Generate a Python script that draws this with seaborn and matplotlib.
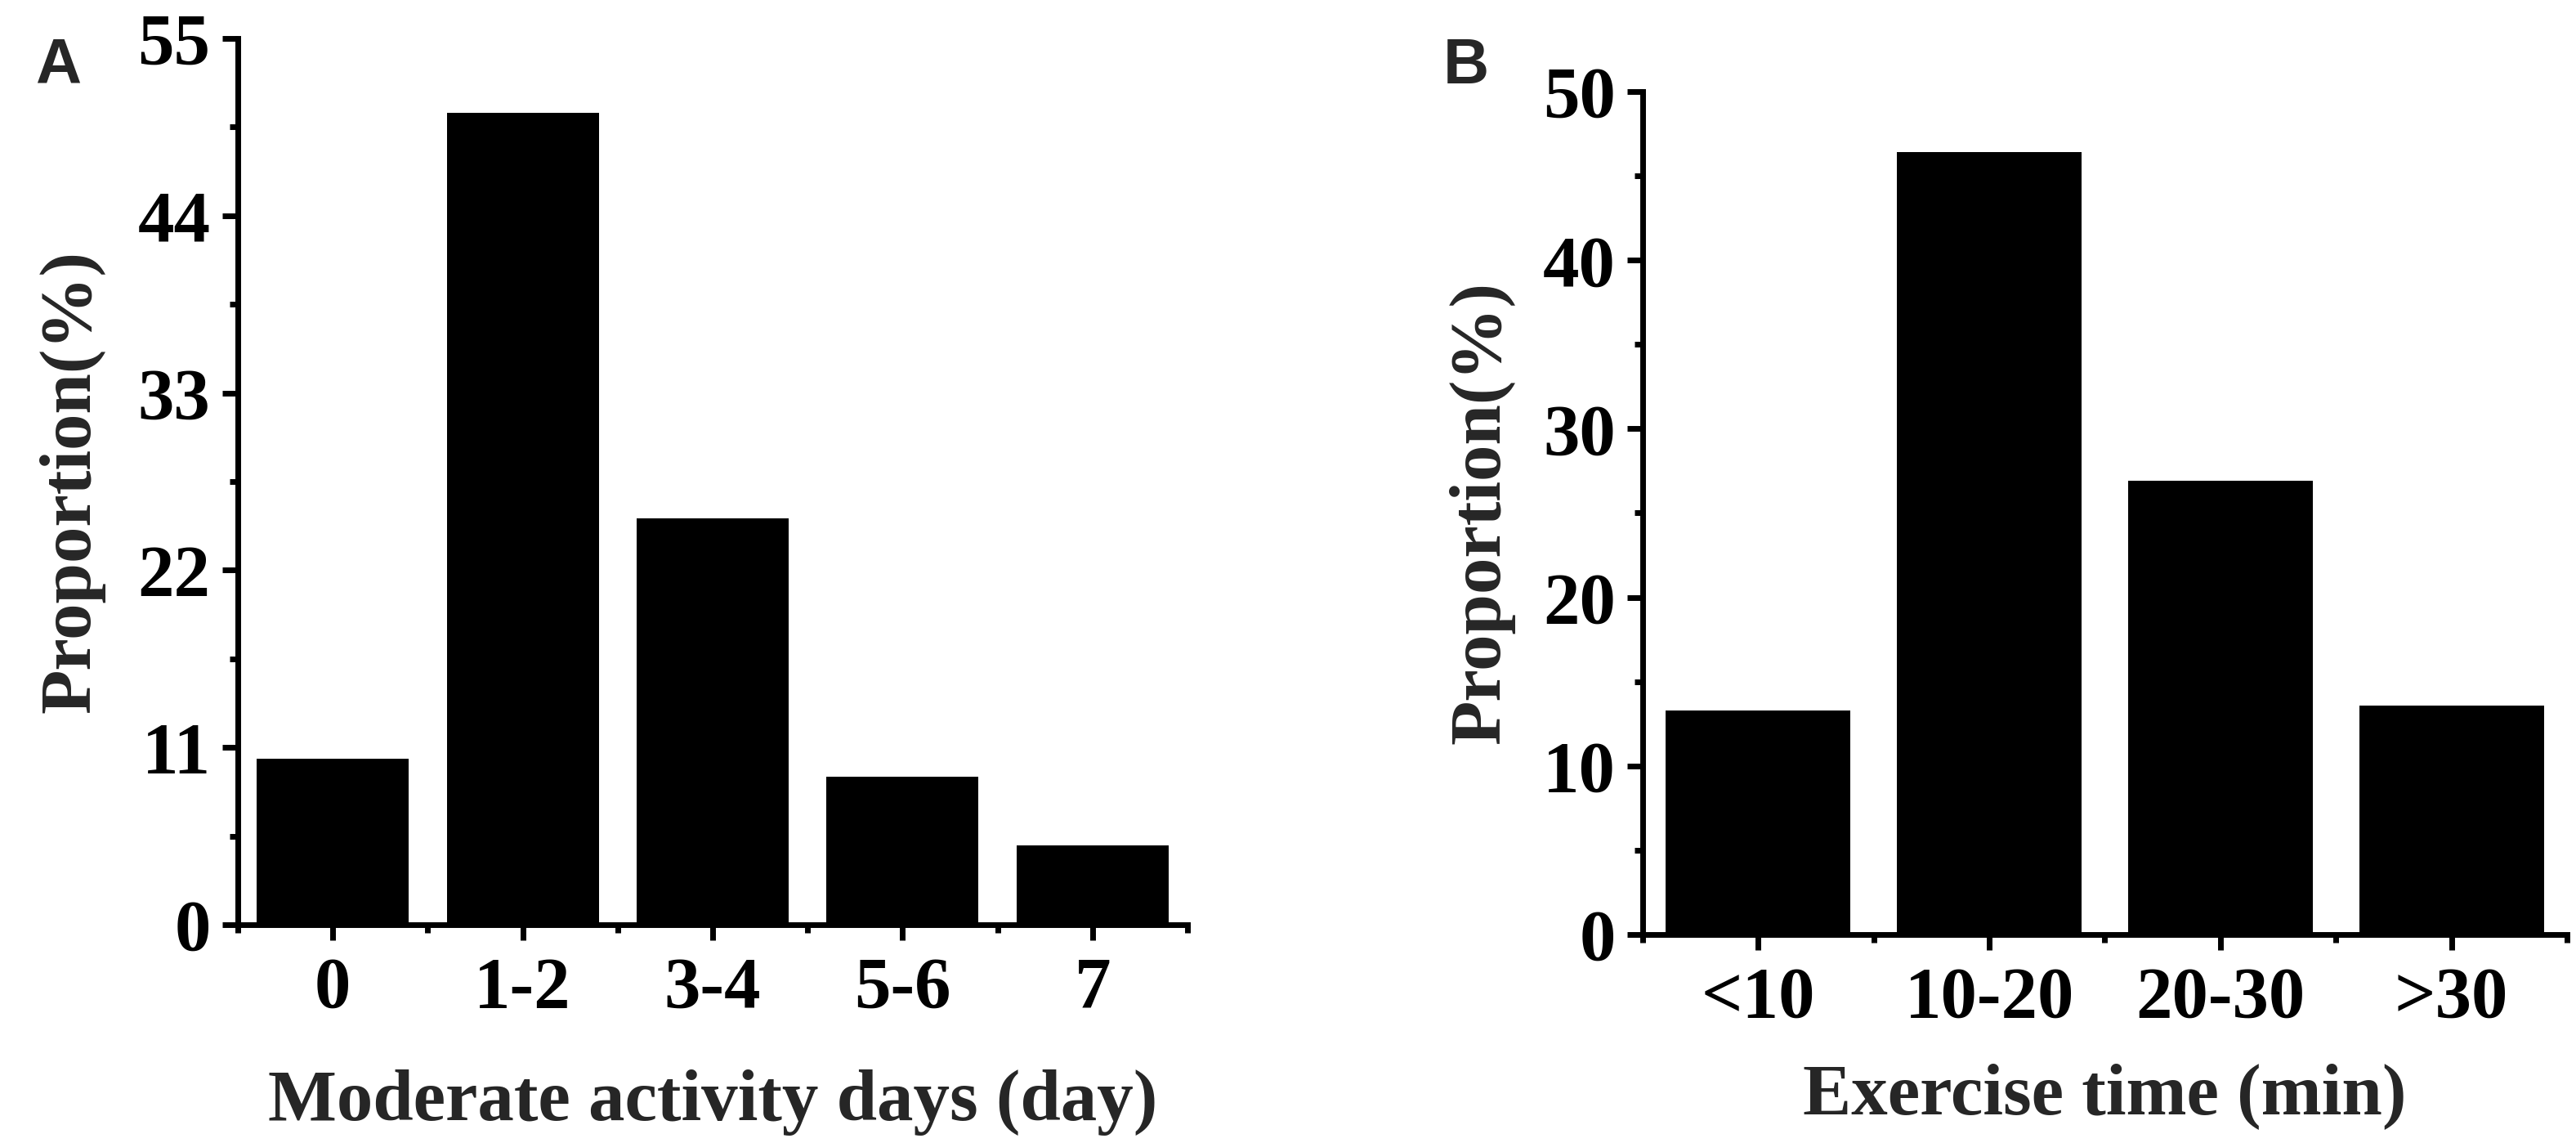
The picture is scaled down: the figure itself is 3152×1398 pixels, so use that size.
import numpy as np
import pandas as pd
import matplotlib
matplotlib.use("Agg")
import matplotlib.pyplot as plt
import seaborn as sns

# ---- data ----
days_labels = ["0", "1-2", "3-4", "5-6", "7"]
days_values = [10.3, 50.4, 25.2, 9.2, 4.9]
days_yticks = [0, 11, 22, 33, 44, 55]

time_labels = ["<10", "10-20", "20-30", ">30"]
time_values = [13.3, 46.4, 26.9, 13.6]
time_yticks = [0, 10, 20, 30, 40, 50]

xlabel_a = "Moderate activity days (day)"
xlabel_b = "Exercise time (min)"
ylabel = "Proportion(%)"

sns.set_theme(style="ticks")
plt.rcParams["font.family"] = ["Liberation Serif", "DejaVu Serif"]
plt.rcParams["font.weight"] = "bold"

fig = plt.figure(figsize=(31.52, 13.98), dpi=100)
ax_a = fig.add_axes([0.0923, 0.191, 0.3687, 0.7754])
ax_b = fig.add_axes([0.6377, 0.1824, 0.3588, 0.7375])

LW = 5.0
FS_TICK = 64
FS_LAB = 64


def style(ax, labels, values, yticks, xlabel, xlabel_pad, ylabel_pad):
    df = pd.DataFrame({"cat": labels, "val": values})
    sns.barplot(data=df, x="cat", y="val", ax=ax, color="black",
                saturation=1, width=0.8, edgecolor="black", linewidth=0)
    n = len(labels)
    ax.set_xlim(-0.5, n - 0.5)
    ax.set_ylim(yticks[0], yticks[-1])
    ax.set_yticks(yticks)
    step = yticks[1] - yticks[0]
    ax.set_yticks(np.arange(yticks[0] + step / 2, yticks[-1], step), minor=True)
    ax.set_xticks(np.arange(n))
    ax.set_xticks(np.arange(-0.5, n, 1.0), minor=True)
    ax.set_xticklabels(labels)
    sns.despine(ax=ax)
    for s in ["left", "bottom"]:
        ax.spines[s].set_linewidth(LW)
        ax.spines[s].set_color("black")
        ax.spines[s].set_capstyle("projecting")
    ax.tick_params(axis="both", which="major", length=14, width=LW,
                   labelsize=FS_TICK, color="black", labelcolor="black")
    ax.tick_params(axis="both", which="minor", length=7, width=LW,
                   color="black")
    ax.tick_params(axis="y", which="major", pad=10)
    ax.tick_params(axis="x", which="major", pad=14)
    for t in ax.get_xticklabels() + ax.get_yticklabels():
        t.set_fontweight("bold")
    ax.set_xlabel(xlabel, fontsize=FS_LAB, fontweight="bold", labelpad=xlabel_pad)
    ax.set_ylabel(ylabel, fontsize=FS_LAB, fontweight="bold", labelpad=ylabel_pad)
    ax.set_facecolor("white")


style(ax_a, days_labels, days_values, days_yticks, xlabel_a, 41, 29)
style(ax_b, time_labels, time_values, time_yticks, xlabel_b, 27, 25)

fig.text(0.0137, 0.968, "A", fontsize=56, fontweight="bold",
         family=["Liberation Sans", "DejaVu Sans"], va="top", ha="left")
fig.text(0.5603, 0.968, "B", fontsize=56, fontweight="bold",
         family=["Liberation Sans", "DejaVu Sans"], va="top", ha="left")

fig.savefig("out.png", dpi=100, facecolor="white")
